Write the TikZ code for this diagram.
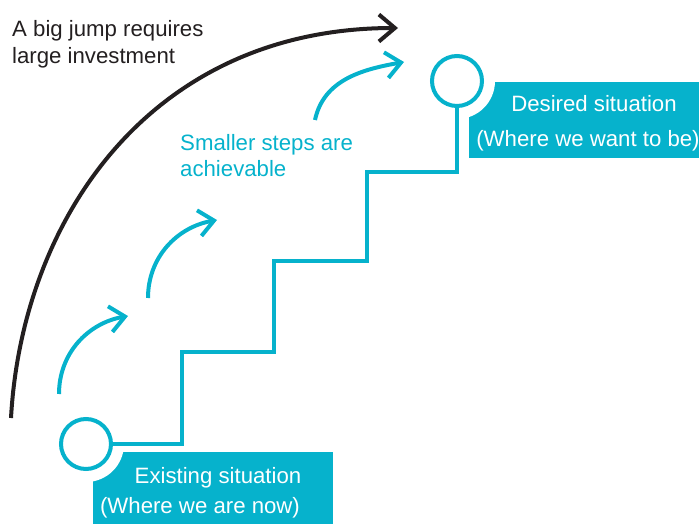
\documentclass[tikz,border=0pt]{standalone}
\usepackage{fontspec}
\setmainfont{Liberation Sans}
\usetikzlibrary{arrows.meta}

\definecolor{stepcyan}{RGB}{6,178,204}
\definecolor{jumpgray}{RGB}{35,31,32}

\tikzset{
  lbl/.style={font=\fontsize{22.2}{27}\selectfont, inner sep=0pt},
  box/.style={fill=stepcyan, anchor=north west, inner sep=0pt},
  ring/.style={circle, draw=stepcyan, line width=4pt, fill=white, minimum size=50pt, inner sep=0pt},
  notch/.style={circle, fill=white, minimum size=76pt, inner sep=0pt},
  stair/.style={stepcyan, line width=4pt},
  hop/.style={stepcyan, line width=4pt, -{Straight Barb[length=15pt, width=26pt]}},
  jump/.style={jumpgray, line width=4pt, -{Straight Barb[length=16pt, width=27pt]}}
}

\begin{document}
\begin{tikzpicture}[x=1pt, y=-1pt]
	\useasboundingbox (0,0) rectangle (699,524);

	\coordinate (now) at (86,444);
	\coordinate (goal) at (457,81);

	\node[box, minimum width=240pt, minimum height=72pt] (nowbox) at (93,452) {};
	\node[box, minimum width=230pt, minimum height=76pt] (goalbox) at (469,82) {};

	\node[notch] at (now) {};
	\node[notch] at (goal) {};

	\node[ring] (nowring) at (now) {};
	\node[ring] (goalring) at (goal) {};

	\draw[stair] (nowring.east) -| ++(69,-92) -| ++(92,-91) -| ++(93,-89) -| (goalring.south);

	\node[lbl, white, anchor=base] (nowtitle) at (218,483) {Existing situation};
	\node[lbl, white, anchor=base] (nownote) at (200,513) {(Where we are now)};
	\node[lbl, white, anchor=base] (goaltitle) at (594,112) {Desired situation};
	\node[lbl, white, anchor=base] (goalnote) at (588,147) {(Where we want to be)};

	\node[lbl, jumpgray, anchor=base west, align=left] (jumptext) at (12,64) {A big jump requires\\large investment};
	\node[lbl, stepcyan, anchor=base west, align=left] (hoptext) at (180,177) {Smaller steps are\\achievable};

	\coordinate (jumpfrom) at (11,418);
	\coordinate (jumpto) at (398,28);
	\draw[jump] (jumpfrom) .. controls (22,220) and (150,28) .. (jumpto);

	\coordinate (hop1) at (59,394);
	\coordinate (land1) at (128,316);
	\coordinate (hop2) at (148,298);
	\coordinate (land2) at (217,220);
	\coordinate (hop3) at (315,120);
	\coordinate (land3) at (404,62);

	\foreach \i/\ang in {1/90, 2/90, 3/78}
		\draw[hop] (hop\i) to[out=\ang, in=190] (land\i);
\end{tikzpicture}
\end{document}
